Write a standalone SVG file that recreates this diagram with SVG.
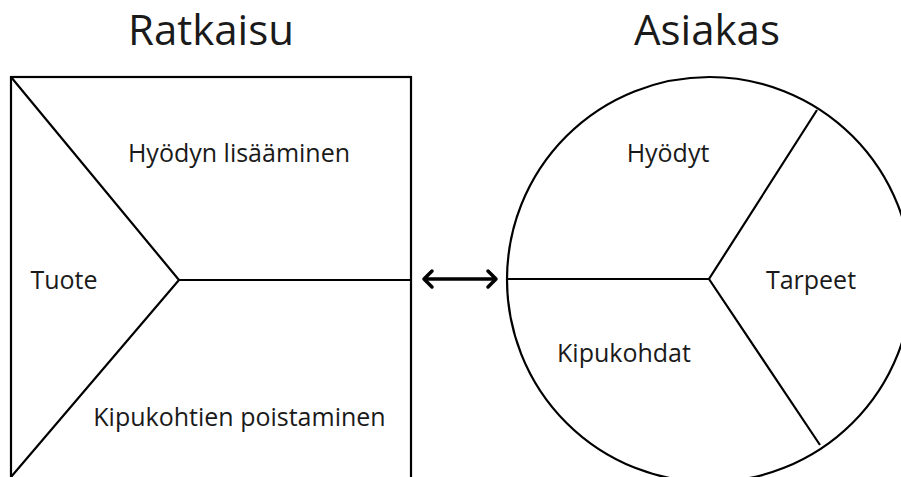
<svg xmlns="http://www.w3.org/2000/svg" width="901" height="477" viewBox="0 0 901 477">
<style>
.ln{fill:none;stroke:#000;stroke-width:2.2}
.t{font-family:"Open Sans","Noto Sans",sans-serif;fill:#1a1a1a;text-anchor:middle}
.h{font-size:42px}
.b{font-size:25px}
.ar{fill:none;stroke:#000;stroke-width:3.5;stroke-linecap:round;stroke-linejoin:round}
</style>
<rect width="901" height="477" fill="#fff"/>
<g id="ratkaisu">
<text class="t h" x="211" y="45">Ratkaisu</text>
<rect class="ln" x="11" y="77" width="400" height="402"/>
<polyline class="ln" points="11,77 179,280 11,477"/>
<line class="ln" x1="179" y1="280" x2="411" y2="280"/>
<text class="t b" x="239" y="162">Hyödyn lisääminen</text>
<text class="t b" x="64" y="289">Tuote</text>
<text class="t b" x="239.5" y="426">Kipukohtien poistaminen</text>
</g>
<g id="asiakas">
<text class="t h" x="707" y="45">Asiakas</text>
<circle class="ln" cx="709.5" cy="279.5" r="202.5"/>
<polyline class="ln" points="817,110 709,279 820,445"/>
<line class="ln" x1="507" y1="279" x2="709" y2="279"/>
<text class="t b" x="668" y="162">Hyödyt</text>
<text class="t b" x="811" y="289">Tarpeet</text>
<text class="t b" x="624" y="362">Kipukohdat</text>
</g>
<g id="connectors">
<line x1="424" y1="279" x2="496" y2="279" stroke="#000" stroke-width="3.5"/>
<polyline class="ar" points="432,271 424,279 432,287"/>
<polyline class="ar" points="488,271 496,279 488,287"/>
</g>
</svg>
